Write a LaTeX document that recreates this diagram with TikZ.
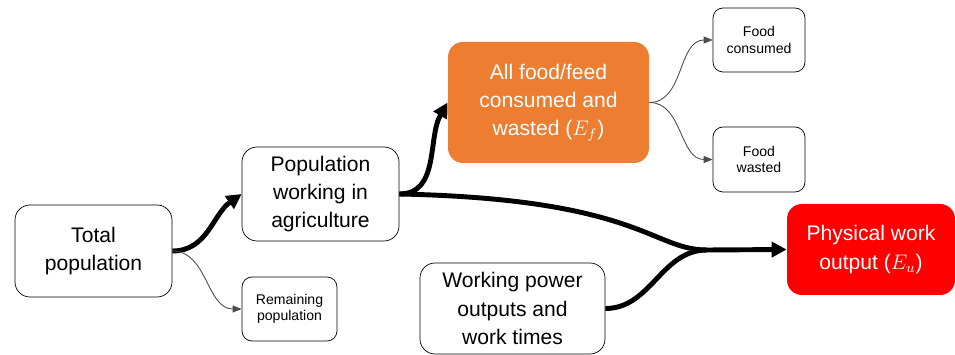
\documentclass[tikz,border=0pt]{standalone}
\usepackage{fontspec}
\setmainfont{Liberation Sans}
\usetikzlibrary{arrows.meta}
\definecolor{foodorange}{HTML}{ED7D31}
\definecolor{workred}{HTML}{FF0000}

\begin{document}
\begin{tikzpicture}[box/.style = {draw = black, rounded corners = .3cm, align = center, inner sep = 0pt, font = \fontsize{12}{16}\selectfont},
	smallbox/.style = {box, rounded corners = .2cm, font = \fontsize{8}{9.5}\selectfont},
	bigflow/.style = {line width = 2.8pt, -{Triangle[length = .3cm, width = .3cm]}},
	smallflow/.style = {draw = black!70, line width = .5pt, -{Triangle[length = .18cm, width = .14cm]}}]
	\useasboundingbox (0,0) rectangle (19.1,7.1);
	\node[box, minimum width = 3.14cm, minimum height = 1.84cm] (total) at (1.87,2.08) {Total\\population};
	\node[box, minimum width = 3.14cm, minimum height = 1.88cm] (pw) at (6.41,3.22) {Population\\working in\\agriculture};
	\node[smallbox, minimum width = 1.9cm, minimum height = 1.28cm] (rem) at (5.79,.92) {Remaining\\population};
	\node[box, draw = none, fill = foodorange, text = white, minimum width = 4.02cm, minimum height = 2.42cm] (allfood) at (10.97,5.05) {All food/feed\\consumed and\\wasted ($E_f$)};
	\node[smallbox, minimum width = 1.84cm, minimum height = 1.28cm] (consumed) at (15.18,6.3) {Food\\consumed};
	\node[smallbox, minimum width = 1.84cm, minimum height = 1.3cm] (wasted) at (15.18,3.91) {Food\\wasted};
	\node[box, minimum width = 3.7cm, minimum height = 1.82cm] (power) at (10.25,.93) {Working power\\outputs and\\work times};
	\node[box, draw = none, fill = workred, text = white, minimum width = 3.36cm, minimum height = 1.82cm] (work) at (17.42,2.11) {Physical work\\output ($E_u$)};
	\coordinate (merge) at (14.14,2.1);
	% flows
	\draw[bigflow] (total.east) to[out = 0, in = 215] (pw.west);
	\draw[smallflow] (total.east) to[out = 0, in = 180] (rem.west);
	\draw[bigflow] (pw.east) to[out = 0, in = 240] (allfood.west);
	\draw[line width = 2.8pt] (pw.east) .. controls +(4.8,-.1) and +(-1.1,0) .. (merge);
	\draw[line width = 2.8pt] (power.east) to[out = 0, in = 180] (merge);
	\draw[bigflow] (merge) -- (work.west);
	\draw[smallflow] (allfood.east) to[out = 0, in = 180] (consumed.west);
	\draw[smallflow] (allfood.east) to[out = 0, in = 180] (wasted.west);
\end{tikzpicture}
\end{document}
